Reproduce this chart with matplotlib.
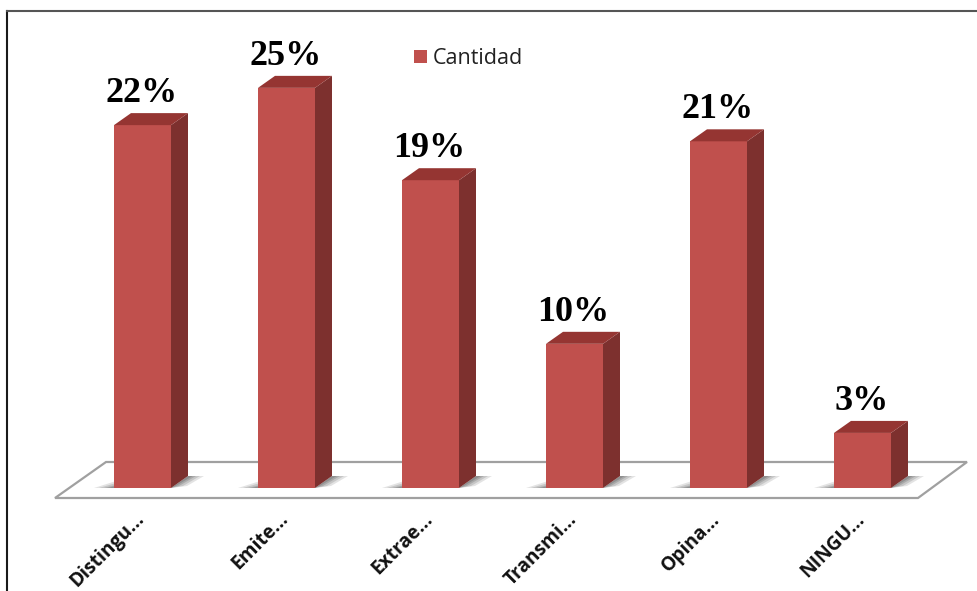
import matplotlib
matplotlib.use("Agg")
import matplotlib.pyplot as plt
from matplotlib.patches import Polygon
from matplotlib.lines import Line2D
from matplotlib.transforms import ScaledTranslation

categories = ["Distingu...", "Emite...", "Extrae...", "Transmi...", "Opina...", "NINGU..."]
values = [22.4, 24.7, 19.0, 8.9, 21.4, 3.4]
labels = ["22%", "25%", "19%", "10%", "21%", "3%"]
series = "Cantidad"

W, H = 977, 591
BASE, STEP, UNIT, X0, FLOOR_Y = 488, 144.0, 16.2, 142.5, 498
fig = plt.figure(figsize=(W/100, H/100), dpi=100, facecolor="white")
ax = fig.add_axes([0, (H-FLOOR_Y)/H, 1, FLOOR_Y/H])
ax.set_xlim(-X0/STEP, (W-X0)/STEP)
ax.set_ylim(-(FLOOR_Y-BASE)/UNIT, BASE/UNIT)
for s in ax.spines.values():
    s.set_visible(False)
ax.set_yticks([])
ax.patch.set_visible(False)

px = lambda p: p/STEP
py = lambda p: p/UNIT
floor = [(-X0/STEP+px(55), py(-10)), (-X0/STEP+px(918), py(-10)),
         (-X0/STEP+px(967), py(26)), (-X0/STEP+px(106), py(26))]
ax.add_patch(Polygon(floor, closed=True, fc="white", ec="#a0a0a0", lw=1.6, clip_on=False, zorder=1))

bw = px(57)
dx, dy = px(17), py(12)
bars = ax.bar(range(6), values, width=bw, color="#c0504d", zorder=4, label=series)
for i, v in enumerate(values):
    l, r = i-bw/2, i+bw/2
    for k, a in zip((1.0, .75, .5, .3), (.16, .2, .25, .3)):
        ax.add_patch(Polygon([(l-px(20*k), 0), (l+px(2), 0), (l+px(2), py(7*k))],
                             closed=True, fc="#555555", ec="none", alpha=a, zorder=2))
        ax.add_patch(Polygon([(r, 0), (r+dx, dy), (r+dx+px(16*k), dy), (r+px(16*k), py(2))],
                             closed=True, fc="#555555", ec="none", alpha=a, zorder=2))
    ax.add_patch(Polygon([(r, 0), (r+dx, dy), (r+dx, v+dy), (r, v)], closed=True,
                         fc="#7d302e", ec="none", zorder=4))
    ax.add_patch(Polygon([(l, v), (l+dx, v+dy), (r+dx, v+dy), (r, v)], closed=True,
                         fc="#953532", ec="none", zorder=4))
    ax.text(i+px(-1), v+py(15), labels[i], ha="center", va="bottom", family="Liberation Serif",
            weight="bold", fontsize=26, color="black", zorder=6)

ax.set_xticks(range(6))
ax.set_xticklabels(categories, rotation=45, ha="right", rotation_mode="anchor",
                   family="Open Sans", fontsize=13.8, weight="bold", color="#111111")
ax.tick_params(axis="x", length=0, pad=8)
shift = ScaledTranslation(-8/100, 0, fig.dpi_scale_trans)
for t in ax.get_xticklabels():
    t.set_transform(t.get_transform() + shift)

leg = ax.legend(handles=[bars], loc="center left", bbox_to_anchor=(414/W, 1-59/FLOOR_Y),
                frameon=False, prop={"family": "Open Sans", "size": 15.5}, handlelength=0.62,
                handleheight=0.55, handletextpad=0.25, borderpad=0, borderaxespad=0)
for t in leg.get_texts():
    t.set_color("#222222")

fig.add_artist(Line2D([6.5/W, 6.5/W], [0, (H-10.5)/H], transform=fig.transFigure, color="#1a1a1a", lw=1.5))
fig.add_artist(Line2D([6.5/W, 1], [(H-10.5)/H, (H-10.5)/H], transform=fig.transFigure, color="#555555", lw=1.5))
fig.savefig("out.png", dpi=100)
